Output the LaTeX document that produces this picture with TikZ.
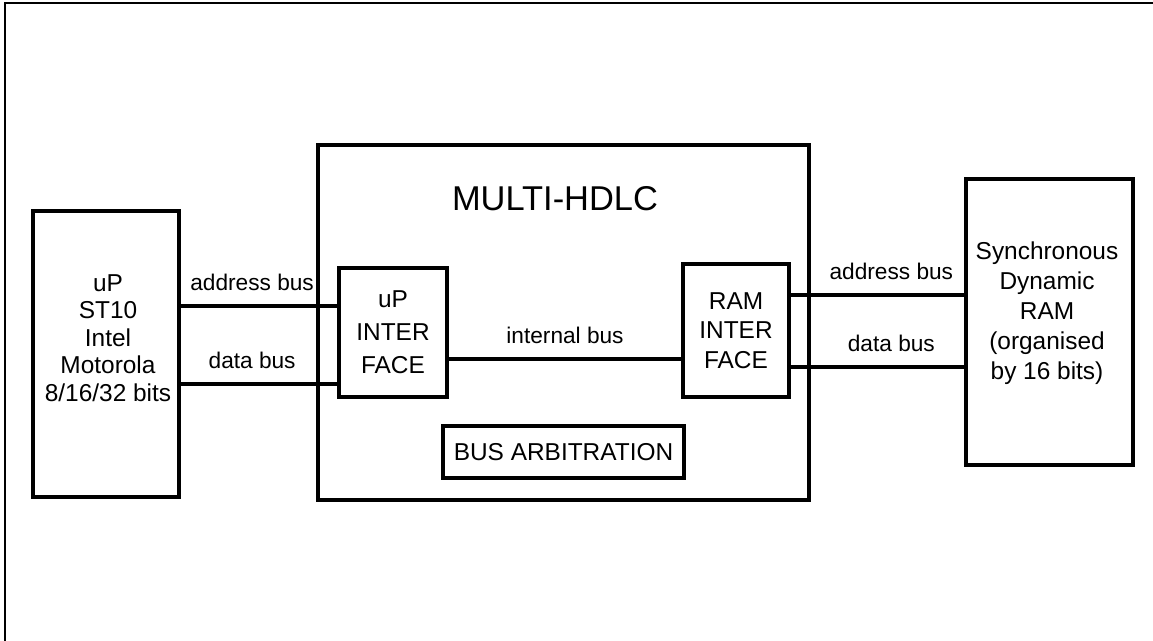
\documentclass[tikz,border=0pt]{standalone}
\usepackage{fontspec}
\setmainfont{Liberation Sans}
\usetikzlibrary{positioning}

\begin{document}
\begin{tikzpicture}[x=0.02cm,y=-0.02cm]
        \tikzstyle{blk} = [rectangle,draw,line width=2.2pt,inner sep=0pt]
        \tikzstyle{txt} = [align=center,inner sep=0pt,font=\fontsize{13.9}{15.6}\selectfont]
        \tikzstyle{lbl} = [inner sep=0pt,outer sep=0pt,font=\fontsize{12.9}{15}\selectfont]
        \tikzstyle{bus} = [line width=2.2pt]

        \useasboundingbox (0,0) rectangle (1153,641);
        \draw[line width=1.5pt] (5,641) -- (5,3) -- (1153,3);

        % processor side
        \node[blk,minimum width=2.92cm,minimum height=5.72cm] (cpu) at (106,354) {};
        \node[txt] (cputxt) at (108,338) {uP\\ST10\\Intel\\Motorola\\8/16/32 bits};

        % the chip
        \node[blk,minimum width=9.82cm,minimum height=7.1cm] (hdlc) at (563.5,322.5) {};
        \node[txt,font=\fontsize{19.6}{22}\selectfont] (title) at (555,199) {MULTI-HDLC};
        \node[blk,txt,minimum width=2.16cm,minimum height=2.58cm,font=\fontsize{13.9}{18.7}\selectfont] (upif) at (393,332.5) {uP\\INTER\\FACE};
        \node[blk,txt,minimum width=2.12cm,minimum height=2.66cm,font=\fontsize{13.9}{16.8}\selectfont] (ramif) at (736,330.5) {RAM\\INTER\\FACE};
        \node[blk,txt,minimum width=4.82cm,minimum height=1.04cm] (arb) at (563.5,452) {BUS ARBITRATION};

        % memory side
        \node[blk,minimum width=3.34cm,minimum height=5.72cm] (sdram) at (1049.5,322) {};
        \node[txt,font=\fontsize{13.9}{17}\selectfont] (sdramtxt) at (1047,313) {Synchronous\\Dynamic\\RAM\\(organised\\by 16 bits)};

        % buses
        \coordinate (ab1) at (0,306);
        \coordinate (db1) at (0,384);
        \coordinate (ib) at (0,359);
        \coordinate (ab2) at (0,295);
        \coordinate (db2) at (0,367);
        \draw[bus] (cpu.east |- ab1) -- node[lbl,above=0.3cm,pos=0.456] (ablbl1) {address bus} (upif.west |- ab1);
        \draw[bus] (cpu.east |- db1) -- node[lbl,above=0.3cm,pos=0.456] (dblbl1) {data bus} (upif.west |- db1);
        \draw[bus] (upif.east |- ib) -- node[lbl,above=0.3cm] (iblbl) {internal bus} (ramif.west |- ib);
        \draw[bus] (ramif.east |- ab2) -- node[lbl,above=0.3cm,pos=0.58] (ablbl2) {address bus} (sdram.west |- ab2);
        \draw[bus] (ramif.east |- db2) -- node[lbl,above=0.3cm,pos=0.58] (dblbl2) {data bus} (sdram.west |- db2);
\end{tikzpicture}
\end{document}
